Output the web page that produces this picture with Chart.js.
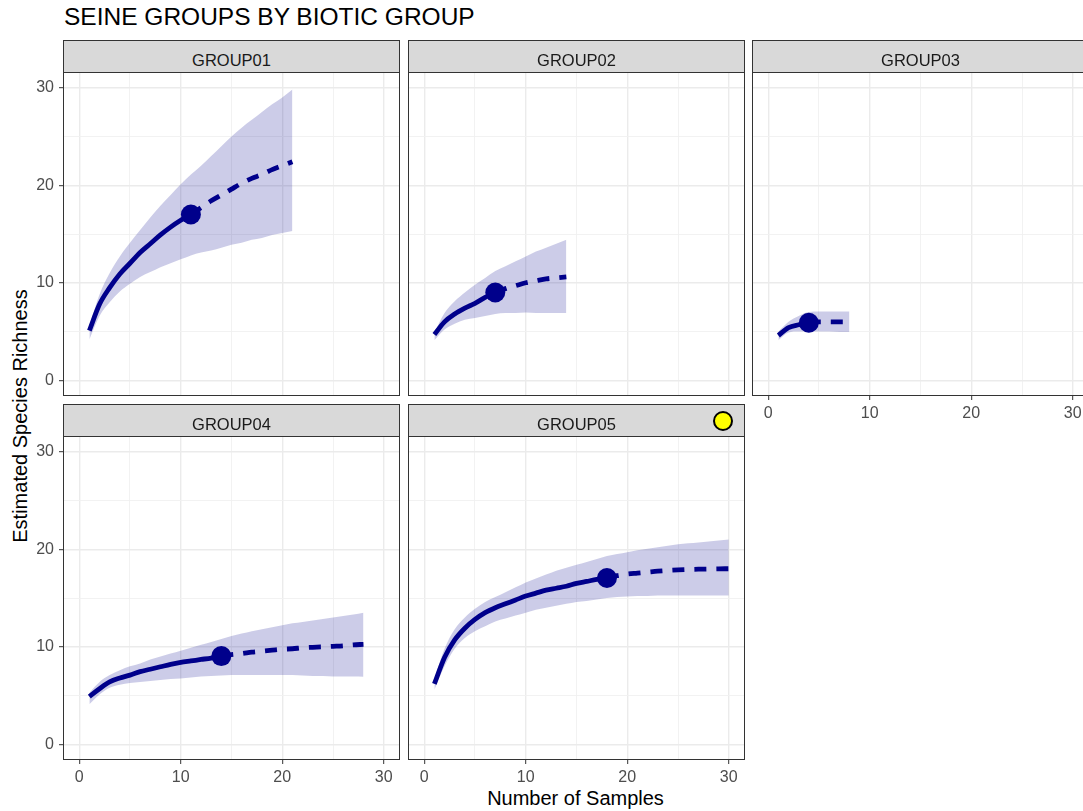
<!DOCTYPE html>
<html>
<head>
<meta charset="utf-8">
<title>Seine groups by biotic group</title>
<script src="https://cdn.jsdelivr.net/npm/chart.js@4.4.1/dist/chart.umd.min.js"></script>
<style>
  html, body { margin: 0; padding: 0; background: #ffffff; overflow: hidden; }
  #page { position: relative; width: 1083px; height: 811px; overflow: hidden;
          font-family: "Liberation Sans", Arial, sans-serif; background: #ffffff; }
  .title { position: absolute; left: 64px; top: 5px; font-size: 24.5px; line-height: 24px;
           color: #000000; white-space: nowrap; }
  .strip { position: absolute; box-sizing: border-box; background: #D9D9D9; border: 1px solid #333333; }
  .strip span { position: absolute; left: 0; right: 0; top: 11px; text-align: center;
                font-size: 16.5px; line-height: 16px; color: #1A1A1A; white-space: nowrap; }
  canvas { position: absolute; }
  .xtitle { position: absolute; left: 63px; width: 1025px; top: 788px; text-align: center;
            font-size: 20px; line-height: 20px; color: #000000; white-space: nowrap; }
  .ytitle { position: absolute; width: 300px; height: 24px; left: -130.5px; top: 404px;
            transform: rotate(-90deg); transform-origin: 50% 50%; text-align: center;
            font-size: 20px; line-height: 24px; color: #000000; white-space: nowrap; }
  .marker { position: absolute; left: 712.5px; top: 410.5px; width: 20px; height: 20px;
            box-sizing: border-box; border: 2.5px solid #000000; border-radius: 50%; background: #FFFF00; }
</style>
</head>
<body>
<div id="page">
  <div class="title">SEINE GROUPS BY BIOTIC GROUP</div>
  <div class="xtitle">Number of Samples</div>
  <div class="ytitle">Estimated Species Richness</div>
</div>
<script>
// ---- axis ticks ----
const SAMPLE_TICKS = [0, 5, 10, 15, 20, 25, 30];
const RICHNESS_TICKS = [0, 5, 10, 15, 20, 25, 30];
const LABELED_TICKS = [0, 10, 20, 30];

// ---- facet names ----
const GROUP_NAMES = ['GROUP01', 'GROUP02', 'GROUP03', 'GROUP04', 'GROUP05'];

// ---- GROUP01: rarefaction / extrapolation with 95% band ----
const G01_SAMPLES  = [1, 2, 3, 4, 5, 6, 7, 8, 9, 10, 11, 12, 13, 14, 15, 16, 17, 18, 19, 20, 21];
const G01_RICHNESS = [5.1, 7.8, 9.5, 10.9, 12.0, 13.1, 14.0, 14.9, 15.7, 16.4, 17.0, 17.7, 18.4, 19.0, 19.6, 20.2, 20.7, 21.1, 21.6, 22.0, 22.4];
const G01_LOWER    = [4.2, 6.6, 8.0, 9.1, 9.9, 10.6, 11.1, 11.6, 12.0, 12.4, 12.8, 13.1, 13.3, 13.6, 13.9, 14.1, 14.4, 14.6, 14.9, 15.1, 15.3];
const G01_UPPER    = [5.6, 8.8, 11.0, 12.7, 14.1, 15.4, 16.7, 17.9, 19.0, 20.1, 21.1, 22.0, 23.0, 24.0, 25.0, 25.9, 26.7, 27.5, 28.3, 29.0, 29.8];
const G01_OBSERVED = 11;

// ---- GROUP02 ----
const G02_SAMPLES  = [1, 2, 3, 4, 5, 6, 7, 8, 9, 10, 11, 12, 13, 14];
const G02_RICHNESS = [4.7, 6.0, 6.8, 7.4, 7.9, 8.5, 9.0, 9.4, 9.7, 10.0, 10.2, 10.4, 10.5, 10.6];
const G02_LOWER    = [4.1, 5.2, 5.8, 6.2, 6.4, 6.6, 6.8, 6.9, 6.9, 6.95, 6.9, 6.9, 6.9, 6.9];
const G02_UPPER    = [4.9, 6.9, 8.1, 9.0, 9.8, 10.5, 11.2, 11.7, 12.2, 12.7, 13.2, 13.6, 14.0, 14.4];
const G02_OBSERVED = 7;

// ---- GROUP03 ----
const G03_SAMPLES  = [1, 2, 3, 4, 5, 6, 7, 8];
const G03_RICHNESS = [4.6, 5.4, 5.7, 5.9, 6.0, 6.0, 6.0, 6.0];
const G03_LOWER    = [4.1, 4.9, 5.0, 5.0, 5.0, 5.0, 4.95, 4.95];
const G03_UPPER    = [5.0, 6.0, 6.6, 7.0, 7.05, 7.05, 7.05, 7.05];
const G03_OBSERVED = 4;

// ---- GROUP04 ----
const G04_SAMPLES  = [1, 2, 3, 4, 5, 6, 7, 8, 9, 10, 11, 12, 13, 14, 15, 16, 17, 18, 19, 20, 21, 22, 23, 24, 25, 26, 27, 28];
const G04_RICHNESS = [4.9, 5.7, 6.4, 6.8, 7.1, 7.45, 7.7, 7.95, 8.2, 8.4, 8.55, 8.7, 8.85, 9.05, 9.2, 9.3, 9.45, 9.55, 9.65, 9.75, 9.8, 9.9, 9.95, 10.0, 10.05, 10.1, 10.2, 10.25];
const G04_LOWER    = [4.1, 5.1, 5.8, 6.1, 6.3, 6.4, 6.5, 6.6, 6.7, 6.75, 6.85, 6.95, 7.0, 7.05, 7.1, 7.1, 7.1, 7.1, 7.1, 7.1, 7.1, 7.05, 7.0, 7.0, 6.95, 6.95, 6.95, 6.93];
const G04_UPPER    = [5.3, 6.4, 7.1, 7.6, 8.0, 8.3, 8.7, 9.0, 9.3, 9.6, 9.9, 10.2, 10.5, 10.8, 11.1, 11.35, 11.6, 11.8, 12.0, 12.2, 12.4, 12.55, 12.7, 12.85, 13.0, 13.15, 13.3, 13.5];
const G04_OBSERVED = 14;

// ---- GROUP05 ----
const G05_SAMPLES  = [1, 2, 3, 4, 5, 6, 7, 8, 9, 10, 11, 12, 13, 14, 15, 16, 17, 18, 19, 20, 21, 22, 23, 24, 25, 26, 27, 28, 29, 30];
const G05_RICHNESS = [6.2, 8.9, 10.7, 11.9, 12.8, 13.5, 14.0, 14.4, 14.8, 15.2, 15.5, 15.8, 16.0, 16.2, 16.5, 16.7, 16.9, 17.05, 17.3, 17.45, 17.55, 17.65, 17.75, 17.82, 17.88, 17.92, 17.95, 17.97, 17.99, 18.0];
const G05_LOWER    = [5.6, 8.0, 9.8, 10.9, 11.6, 12.1, 12.6, 12.9, 13.2, 13.5, 13.8, 14.0, 14.2, 14.4, 14.6, 14.7, 14.85, 15.0, 15.1, 15.15, 15.2, 15.2, 15.25, 15.25, 15.25, 15.25, 15.25, 15.25, 15.25, 15.25];
const G05_UPPER    = [6.7, 9.8, 11.8, 13.0, 13.9, 14.6, 15.1, 15.6, 16.1, 16.6, 17.0, 17.4, 17.8, 18.1, 18.4, 18.7, 19.0, 19.3, 19.5, 19.7, 19.9, 20.05, 20.2, 20.35, 20.5, 20.6, 20.7, 20.8, 20.9, 21.0];
const G05_OBSERVED = 18;

// ---- facet layout (plot rectangles in page pixels) ----
const AXIS_MIN = -1.5, AXIS_MAX = 31.5;
const YAXIS_W = 45, XAXIS_H = 35, PAD = 2;
const FONT = '"Liberation Sans", Arial, sans-serif';
const LINE_COLOR = '#00008B';
const BAND_COLOR = 'rgba(0, 0, 139, 0.2)';

const facets = [
  { name: GROUP_NAMES[0], s: G01_SAMPLES, r: G01_RICHNESS, lo: G01_LOWER, hi: G01_UPPER, obs: G01_OBSERVED,
    rect: { left: 64, top: 73, width: 335, height: 322 }, stripTop: 40, xLabels: false, yLabels: true },
  { name: GROUP_NAMES[1], s: G02_SAMPLES, r: G02_RICHNESS, lo: G02_LOWER, hi: G02_UPPER, obs: G02_OBSERVED,
    rect: { left: 409, top: 73, width: 335, height: 322 }, stripTop: 40, xLabels: false, yLabels: false },
  { name: GROUP_NAMES[2], s: G03_SAMPLES, r: G03_RICHNESS, lo: G03_LOWER, hi: G03_UPPER, obs: G03_OBSERVED,
    rect: { left: 753, top: 73, width: 335, height: 322 }, stripTop: 40, xLabels: true, yLabels: false },
  { name: GROUP_NAMES[3], s: G04_SAMPLES, r: G04_RICHNESS, lo: G04_LOWER, hi: G04_UPPER, obs: G04_OBSERVED,
    rect: { left: 64, top: 437, width: 335, height: 322 }, stripTop: 404, xLabels: true, yLabels: true },
  { name: GROUP_NAMES[4], s: G05_SAMPLES, r: G05_RICHNESS, lo: G05_LOWER, hi: G05_UPPER, obs: G05_OBSERVED,
    rect: { left: 409, top: 437, width: 335, height: 322 }, stripTop: 404, xLabels: true, yLabels: false }
];

const isMajor = v => LABELED_TICKS.includes(v);

function scaleOptions(axis, showLabels) {
  const tickValues = axis === 'x' ? SAMPLE_TICKS : RICHNESS_TICKS;
  return {
    type: 'linear',
    min: AXIS_MIN,
    max: AXIS_MAX,
    afterBuildTicks: scale => { scale.ticks = tickValues.map(v => ({ value: v })); },
    afterFit: scale => {
      if (axis === 'x') scale.height = XAXIS_H; else scale.width = YAXIS_W;
      scale.paddingTop = 0; scale.paddingBottom = 0; scale.paddingLeft = 0; scale.paddingRight = 0;
    },
    border: { display: false },
    grid: {
      color: c => (c.tick && isMajor(c.tick.value)) ? '#EBEBEB' : '#F0F0F0',
      lineWidth: c => (c.tick && isMajor(c.tick.value)) ? 1.4 : 0.9,
      drawTicks: showLabels,
      tickLength: 5,
      tickWidth: 1,
      tickColor: c => (c.tick && isMajor(c.tick.value)) ? '#333333' : 'rgba(0,0,0,0)'
    },
    ticks: {
      display: showLabels,
      autoSkip: false,
      maxRotation: 0,
      padding: axis === 'x' ? 4 : 5,
      color: '#4D4D4D',
      font: { family: FONT, size: 16 },
      callback: v => isMajor(v) ? String(v) : ''
    }
  };
}

// panel frame drawn over the plotting region
const panelFrame = {
  id: 'panelFrame',
  afterDraw(chart) {
    const { ctx, chartArea: a } = chart;
    ctx.save();
    ctx.strokeStyle = '#333333';
    ctx.lineWidth = 1;
    ctx.strokeRect(a.left - 0.5, a.top - 0.5, a.right - a.left + 1, a.bottom - a.top + 1);
    ctx.restore();
  }
};

const toPoints = (xs, ys) => xs.map((x, i) => ({ x: x, y: ys[i] }));
const page = document.getElementById('page');

facets.forEach(f => {
  // facet strip
  const strip = document.createElement('div');
  strip.className = 'strip';
  strip.style.left = (f.rect.left - 1) + 'px';
  strip.style.top = f.stripTop + 'px';
  strip.style.width = (f.rect.width + 2) + 'px';
  strip.style.height = (f.rect.top - f.stripTop) + 'px';
  const label = document.createElement('span');
  label.textContent = f.name;
  strip.appendChild(label);
  page.appendChild(strip);

  // plotting canvas
  const canvas = document.createElement('canvas');
  const cw = f.rect.width + YAXIS_W + PAD;
  const ch = f.rect.height + XAXIS_H + PAD;
  canvas.width = cw;
  canvas.height = ch;
  canvas.style.width = cw + 'px';
  canvas.style.height = ch + 'px';
  canvas.style.left = (f.rect.left - YAXIS_W) + 'px';
  canvas.style.top = (f.rect.top - PAD) + 'px';
  page.appendChild(canvas);

  const k = f.s.indexOf(f.obs);
  const smooth = { cubicInterpolationMode: 'monotone' };

  new Chart(canvas, {
    type: 'line',
    data: {
      datasets: [
        Object.assign({ label: 'upper', data: toPoints(f.s, f.hi), fill: '+1', backgroundColor: BAND_COLOR,
          borderColor: 'rgba(0,0,0,0)', borderWidth: 0, pointRadius: 0, order: 3 }, smooth),
        Object.assign({ label: 'lower', data: toPoints(f.s, f.lo), fill: false,
          borderColor: 'rgba(0,0,0,0)', borderWidth: 0, pointRadius: 0, order: 3 }, smooth),
        Object.assign({ label: 'Rarefaction', data: toPoints(f.s.slice(0, k + 1), f.r.slice(0, k + 1)), fill: false,
          borderColor: LINE_COLOR, borderWidth: 4.8, borderCapStyle: 'butt', pointRadius: 0, order: 2 }, smooth),
        Object.assign({ label: 'Extrapolation', data: toPoints(f.s.slice(k), f.r.slice(k)), fill: false,
          borderColor: LINE_COLOR, borderWidth: 4.8, borderDash: [12, 10], borderCapStyle: 'butt',
          pointRadius: 0, order: 2 }, smooth),
        { label: 'Observed', data: [{ x: f.obs, y: f.r[k] }], showLine: false,
          pointRadius: 10, pointBackgroundColor: LINE_COLOR, pointBorderWidth: 0, order: 1 }
      ]
    },
    options: {
      responsive: false,
      animation: false,
      devicePixelRatio: 1,
      layout: { autoPadding: false, padding: { top: PAD, right: PAD, left: 0, bottom: 0 } },
      plugins: { legend: { display: false }, tooltip: { enabled: false }, title: { display: false } },
      scales: {
        x: scaleOptions('x', f.xLabels),
        y: scaleOptions('y', f.yLabels)
      }
    },
    plugins: [panelFrame]
  });
});

// highlight marker in the GROUP05 strip
const marker = document.createElement('div');
marker.className = 'marker';
page.appendChild(marker);
</script>
</body>
</html>
